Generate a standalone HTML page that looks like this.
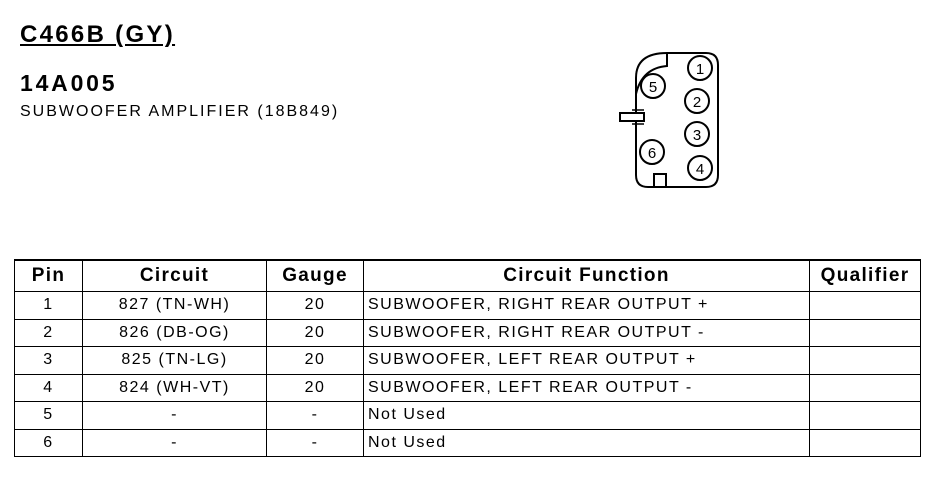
<!DOCTYPE html>
<html><head><style>
body{margin:0;width:932px;height:480px;background:#fff;position:relative;font-family:"Liberation Sans",Arial,sans-serif;color:#000;overflow:hidden}
.t{position:absolute;white-space:nowrap}
table{position:absolute;left:14px;top:259px;border-collapse:collapse;font-size:16px;letter-spacing:1.5px}
td,th{border:1.5px solid #000;padding:0;height:26.5px;text-align:center}
th{font-size:19px;height:30px;letter-spacing:1.3px}
td.f{text-align:left;padding-left:4px}
</style></head><body>
<div class="t" style="left:20px;top:21px;font-size:24px;font-weight:bold;text-decoration:underline;letter-spacing:2.3px">C466B (GY)</div>
<div class="t" style="left:20px;top:70px;font-size:23px;font-weight:bold;letter-spacing:2.8px">14A005</div>
<div class="t" style="left:20px;top:103px;font-size:16px;letter-spacing:2px">SUBWOOFER AMPLIFIER (18B849)</div>
<svg style="position:absolute;left:0;top:0" width="932" height="480" fill="none" stroke="#000" stroke-width="2">
<path d="M667 53 H706 Q718 53 718 65 V175 Q718 187 706 187 H648 Q636 187 636 175 V78 Q636 53 667 53 Z"/>
<path d="M667 53 V66 Q642 68 636 94"/>
<rect x="654" y="174" width="12" height="13" fill="#fff"/>
<rect x="620" y="113" width="24" height="8" fill="#fff"/>
<path d="M632 110 H644 M632 124 H644" stroke-width="1.5"/>
<circle cx="700" cy="68" r="12"/><circle cx="697" cy="101" r="12"/>
<circle cx="697" cy="134" r="12"/><circle cx="700" cy="168" r="12"/>
<circle cx="653" cy="86" r="12" fill="#fff"/><circle cx="652" cy="152" r="12"/>
<g font-family="Liberation Sans,Arial,sans-serif" font-size="15" fill="#000" stroke="none" text-anchor="middle">
<text x="700" y="74">1</text><text x="697" y="107">2</text><text x="697" y="140">3</text><text x="700" y="174">4</text><text x="653" y="92">5</text><text x="652" y="158">6</text>
</g>
</svg>
<table>
<tr style="border-top:2.5px solid #000"><th style="width:67px">Pin</th><th style="width:183px">Circuit</th><th style="width:96px">Gauge</th><th style="width:445px">Circuit Function</th><th style="width:110px">Qualifier</th></tr>
<tr><td>1</td><td>827 (TN-WH)</td><td>20</td><td class="f">SUBWOOFER, RIGHT REAR OUTPUT +</td><td></td></tr>
<tr><td>2</td><td>826 (DB-OG)</td><td>20</td><td class="f">SUBWOOFER, RIGHT REAR OUTPUT -</td><td></td></tr>
<tr><td>3</td><td>825 (TN-LG)</td><td>20</td><td class="f">SUBWOOFER, LEFT REAR OUTPUT +</td><td></td></tr>
<tr><td>4</td><td>824 (WH-VT)</td><td>20</td><td class="f">SUBWOOFER, LEFT REAR OUTPUT -</td><td></td></tr>
<tr><td>5</td><td>-</td><td>-</td><td class="f">Not Used</td><td></td></tr>
<tr><td>6</td><td>-</td><td>-</td><td class="f">Not Used</td><td></td></tr>
</table>
</body></html>
